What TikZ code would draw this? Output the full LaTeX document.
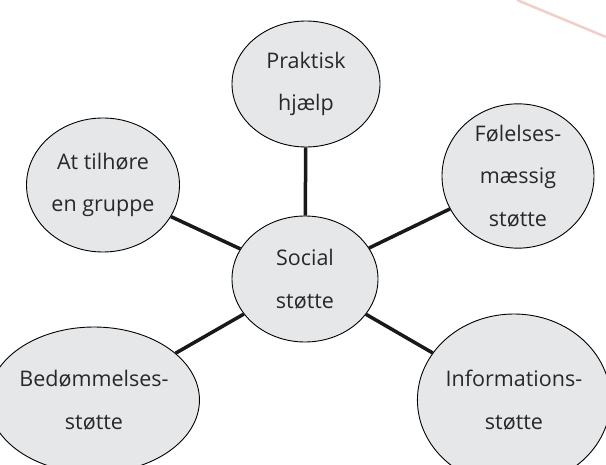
\documentclass[tikz,border=0pt]{standalone}
\usepackage{fontspec}
\setmainfont{Open Sans}
\usetikzlibrary{shapes.geometric}
\definecolor{bubblegray}{RGB}{230,231,233}
\definecolor{textgray}{RGB}{40,40,40}
\definecolor{rosa}{RGB}{242,206,200}
\begin{document}
\begin{tikzpicture}[x=1pt,y=-1pt,
    bubble/.style={ellipse, draw=black, line width=0.9pt, fill=bubblegray, inner sep=0pt,
      align=center, text=textgray, font=\fontsize{21.5}{42.5}\selectfont},
    spoke/.style={line width=3.5pt, black!90}]
    \useasboundingbox (0,0) rectangle (606,465);
    \draw[rosa, line width=2.5pt] (517,0) -- (606,37);

    \node[bubble, minimum width=146pt, minimum height=126pt] (social) at (305,279) {Social\\støtte};
    \node[bubble, minimum width=148pt, minimum height=126pt] (praktisk) at (306,84) {Praktisk\\hjælp};
    \node[bubble, minimum width=153pt, minimum height=134pt] (gruppe) at (103,185) {At tilhøre\\en gruppe};
    \node[bubble, minimum width=152pt, minimum height=128pt] (foelelse) at (518,176) {Følelses-\\mæssig\\støtte};
    \node[bubble, minimum width=172pt, minimum height=146pt] (bedoem) at (94,400) {Bedømmelses-\\støtte};
    \node[bubble, minimum width=178pt, minimum height=172pt] (info) at (514,400) {Informations-\\støtte};

    \draw[spoke] (social) -- (praktisk);
    \draw[spoke] (social) -- (gruppe);
    \draw[spoke] (social) -- (foelelse);
    \draw[spoke] (social) -- (bedoem);
    \draw[spoke] (social) -- (info);
\end{tikzpicture}
\end{document}
